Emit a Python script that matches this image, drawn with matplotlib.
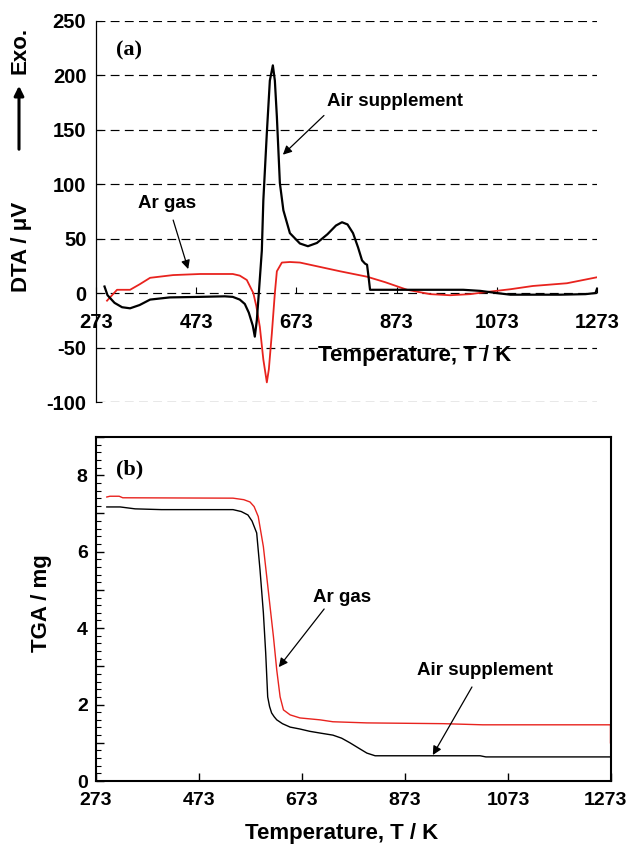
import matplotlib
matplotlib.use("Agg")
import matplotlib.pyplot as plt
from matplotlib.ticker import MultipleLocator, FuncFormatter
from matplotlib.transforms import ScaledTranslation

plt.rcParams['font.family'] = ['Liberation Sans', 'DejaVu Sans']
plt.rcParams['font.weight'] = 'bold'
plt.rcParams['axes.unicode_minus'] = False

# (a) DTA curves, temperature in K, signal in microvolt
air_dta_T = [290, 296, 310, 325, 341, 360, 381, 420, 480, 530, 546, 560, 570, 578, 586,
             590, 594, 598, 604, 607, 614, 620, 626, 630, 634, 640, 647, 660, 680, 696,
             714, 735, 752, 764, 775, 786, 796, 804, 810, 814, 817, 820, 850, 900, 950,
             1006, 1040, 1073, 1100, 1150, 1200, 1250, 1270, 1273]
air_dta = [6, -2, -9, -13, -14, -11, -6, -4, -3.5, -3, -3.5, -6, -10, -18, -30,
           -40, -25, 0, 39, 85, 147, 195, 209, 195, 162, 101, 76, 55, 45.5, 43,
           46, 54, 62, 65, 63, 55, 42, 30, 27, 26, 15, 3, 3, 3, 3,
           3, 2, 0, -1.5, -1.5, -1.5, -1, 0, 4]

ar_dta_T = [295, 305, 315, 341, 360, 381, 427, 481, 546, 560, 574, 587, 593, 600, 607,
            614, 618, 624, 630, 634, 644, 660, 680, 720, 760, 814, 850, 894, 940, 980,
            1020, 1053, 1100, 1145, 1213, 1273]
ar_dta = [-7, -2, 3, 3, 8, 14, 16.5, 17.5, 17.5, 16, 12, 0, -12, -31, -61,
          -82, -70, -37, 0, 20, 28, 28.5, 28, 24, 20, 15, 10, 3, -1, -2,
          -1, 1, 3.5, 6.5, 9, 14.5]

# (b) TGA curves, mass in mg
air_tga_T = [294, 320, 349, 400, 539, 555, 568, 576, 585, 591.5, 598, 602.5, 606.4, 610,
             614, 619, 624, 635, 650, 669, 688, 710, 733, 750, 766, 783, 799, 815, 900,
             1019, 1030, 1273]
air_tga = [7.17, 7.17, 7.12, 7.1, 7.1, 7.05, 6.96, 6.8, 6.49, 5.52, 4.4, 3.35, 2.2, 1.95,
           1.78, 1.68, 1.6, 1.5, 1.41, 1.36, 1.3, 1.25, 1.2, 1.12, 1.0, 0.86, 0.73, 0.66, 0.66,
           0.66, 0.63, 0.63]

ar_tga_T = [294, 300, 318, 325, 539, 560, 572, 580, 588, 598, 604.5, 611, 617.5, 624,
            630.5, 637, 650, 669, 708, 733, 799, 947, 1024, 1272, 1272]
ar_tga = [7.43, 7.45, 7.45, 7.41, 7.40, 7.36, 7.3, 7.18, 6.92, 6.13, 5.35, 4.56, 3.78, 2.9,
          2.2, 1.86, 1.73, 1.65, 1.6, 1.55, 1.52, 1.5, 1.47, 1.47, 1.0]

temp_ticks = [273, 473, 673, 873, 1073, 1273]
dta_ticks = [-100, -50, 0, 50, 100, 150, 200, 250]

W, H = 629, 847
fig = plt.figure(figsize=(W / 100, H / 100), dpi=100)


def box(x0, x1, y_top, y_bot):
    return [x0 / W, 1 - y_bot / H, (x1 - x0) / W, (y_bot - y_top) / H]


arrow = dict(arrowstyle='-|>', color='k', lw=0.9, mutation_scale=13, shrinkA=0, shrinkB=0)

# ---- (a) DTA ----
ax1 = fig.add_axes(box(96, 597, 20.7, 402))
ax1.set_xlim(273, 1273)
ax1.set_ylim(-100, 250)
for v in dta_ticks:
    ax1.axhline(v, color='k', lw=0.85, ls=(0, (7.5, 4.5)), zorder=1)
ax1.plot(ar_dta_T, ar_dta, color='#e8231e', lw=1.3, zorder=3)
ax1.plot(air_dta_T, air_dta, color='k', lw=1.6, zorder=4)
for s in ['top', 'right', 'bottom']:
    ax1.spines[s].set_visible(False)
ax1.spines['bottom'].set_position(('data', 0))
ax1.spines['left'].set_linewidth(0.9)
ax1.set_xticks(temp_ticks)
ax1.set_yticks(dta_ticks)
ax1.tick_params(axis='x', direction='in', length=4, width=0.8, pad=14, labelsize=14.5)
ax1.tick_params(axis='y', direction='in', length=4, width=0.8, pad=7, labelsize=14.5)

ax1.text(339, 223, '(a)', family='Liberation Serif', fontsize=16, fontweight='bold',
         ha='center', va='center')
ax1.text(870, 176, 'Air supplement', fontsize=13.5, ha='center', va='center')
ax1.annotate('', xy=(646, 127), xytext=(728, 163), arrowprops=arrow)
ax1.text(415, 82, 'Ar gas', fontsize=13.5, ha='center', va='center')
ax1.annotate('', xy=(457, 22), xytext=(427, 67), arrowprops=arrow)

fig.text(415 / W, 1 - 355 / H, 'Temperature, T / K', fontsize=16, ha='center', va='center')
fig.text(22 / W, 1 - 247 / H, 'DTA / μV', fontsize=16, rotation=90, ha='center', va='center')
fig.text(20 / W, 1 - 50 / H, 'Exo.', fontsize=16, rotation=90, ha='center', va='center')
fig.patches.append(matplotlib.patches.FancyArrowPatch(
    (19 / W, 1 - 152 / H), (19 / W, 1 - 83 / H), transform=fig.transFigure,
    arrowstyle='-|>', mutation_scale=14, lw=2.2, color='k'))

# ---- (b) TGA ----
ax2 = fig.add_axes(box(96, 611, 437, 781))
ax2.set_xlim(273, 1273)
ax2.set_ylim(0, 9)
ax2.plot(ar_tga_T, ar_tga, color='#e8231e', lw=1.0)
ax2.plot(air_tga_T, air_tga, color='k', lw=1.0)
for s in ax2.spines.values():
    s.set_linewidth(1.5)
ax2.set_xticks(temp_ticks)
ax2.yaxis.set_major_locator(MultipleLocator(1))
ax2.yaxis.set_minor_locator(MultipleLocator(0.2))
ax2.yaxis.set_major_formatter(FuncFormatter(lambda v, p: '%d' % v if int(round(v)) % 2 == 0 else ''))
ax2.tick_params(axis='x', direction='in', length=6, width=1.0, pad=8, labelsize=14)
ax2.tick_params(axis='y', which='major', direction='in', length=6, width=1.0, pad=6, labelsize=14)
ax2.tick_params(axis='y', which='minor', direction='in', length=3.5, width=0.8)

# last label sits a little left so it stays inside the picture
last = ax2.get_xticklabels()[-1]
last.set_transform(last.get_transform() + ScaledTranslation(-6 / 100, 0, fig.dpi_scale_trans))

ax2.text(339, 8.14, '(b)', family='Liberation Serif', fontsize=16, fontweight='bold',
         ha='center', va='center')
ax2.text(751, 4.79, 'Ar gas', fontsize=13.5, ha='center', va='center')
ax2.annotate('', xy=(628, 2.98), xytext=(716, 4.50), arrowprops=arrow)
ax2.text(1028, 2.88, 'Air supplement', fontsize=13.5, ha='center', va='center')
ax2.annotate('', xy=(927, 0.68), xytext=(1003, 2.46), arrowprops=arrow)

fig.text(342 / W, 1 - 833 / H, 'Temperature, T / K', fontsize=16, ha='center', va='center')
fig.text(42 / W, 1 - 603 / H, 'TGA / mg', fontsize=16, rotation=90, ha='center', va='center')

fig.savefig('out.png', dpi=100)
